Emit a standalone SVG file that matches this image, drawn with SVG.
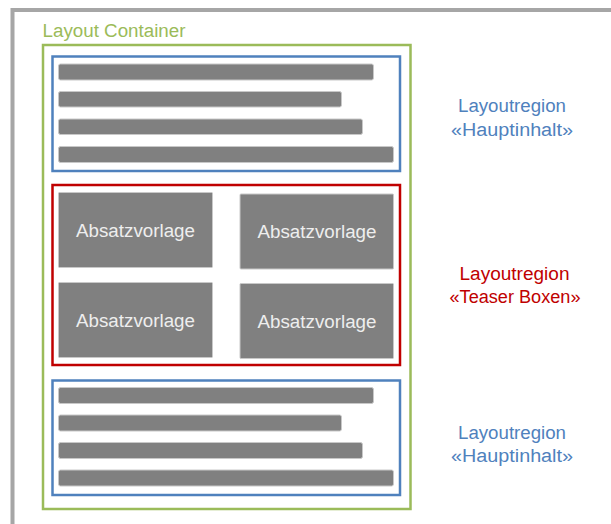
<svg xmlns="http://www.w3.org/2000/svg" width="611" height="524" viewBox="0 0 611 524">
<style>
.bar{fill:#808080;stroke:#c8c8c8;stroke-width:1}
.box{fill:#808080;stroke:#c8c8c8;stroke-width:1}
.bt{font-family:"Liberation Sans",Arial,sans-serif;font-size:18px;fill:#eeeeee;text-anchor:middle}
.lbl{font-family:"Liberation Sans",Arial,sans-serif;font-size:18px;text-anchor:middle}
.blue{fill:#4f81bd}
.red{fill:#c00000}
</style>
<rect width="611" height="524" fill="#ffffff"/>
<rect x="12.5" y="10" width="700" height="600" fill="none" stroke="#a6a6a6" stroke-width="4"/>
<g id="container">
<text x="42.5" y="36.5" font-family="'Liberation Sans',Arial,sans-serif" font-size="18" fill="#9bbb59" textLength="143" lengthAdjust="spacingAndGlyphs">Layout Container</text>
<rect x="43" y="45" width="367.5" height="464" fill="none" stroke="#9bbb59" stroke-width="2.5"/>
</g>
<g id="region-top">
<rect x="52.5" y="56.5" width="347.5" height="114.5" fill="none" stroke="#4f81bd" stroke-width="2.5"/>
<rect class="bar" x="58.5" y="64" width="315" height="16" rx="2"/>
<rect class="bar" x="58.5" y="91.5" width="283" height="15.5" rx="2"/>
<rect class="bar" x="58.5" y="119" width="304" height="15.5" rx="2"/>
<rect class="bar" x="58.5" y="146.5" width="335" height="16" rx="2"/>
</g>
<g id="region-teaser">
<rect x="52.5" y="185" width="347.5" height="180" fill="none" stroke="#c00000" stroke-width="2.5"/>
<g id="box1"><rect class="box" x="58.5" y="192.5" width="154" height="75" rx="1"/><text class="bt" x="135.5" y="236.5" textLength="119" lengthAdjust="spacingAndGlyphs">Absatzvorlage</text></g>
<g id="box2"><rect class="box" x="240" y="194" width="153.5" height="75" rx="1"/><text class="bt" x="317" y="238" textLength="119" lengthAdjust="spacingAndGlyphs">Absatzvorlage</text></g>
<g id="box3"><rect class="box" x="58.5" y="282.5" width="154" height="75" rx="1"/><text class="bt" x="135.5" y="326.5" textLength="119" lengthAdjust="spacingAndGlyphs">Absatzvorlage</text></g>
<g id="box4"><rect class="box" x="240" y="283.5" width="153.5" height="75" rx="1"/><text class="bt" x="317" y="327.5" textLength="119" lengthAdjust="spacingAndGlyphs">Absatzvorlage</text></g>
</g>
<g id="region-bottom">
<rect x="52.5" y="380.5" width="347.5" height="114.5" fill="none" stroke="#4f81bd" stroke-width="2.5"/>
<rect class="bar" x="58.5" y="387.5" width="315" height="16" rx="2"/>
<rect class="bar" x="58.5" y="415" width="283" height="16" rx="2"/>
<rect class="bar" x="58.5" y="442.5" width="304" height="16" rx="2"/>
<rect class="bar" x="58.5" y="470" width="335" height="16" rx="2"/>
</g>
<g id="label-top">
<text class="lbl blue" x="512" y="112.3" textLength="108" lengthAdjust="spacingAndGlyphs">Layoutregion</text>
<text class="lbl blue" x="512" y="135.5" textLength="122" lengthAdjust="spacingAndGlyphs">«Hauptinhalt»</text>
</g>
<g id="label-teaser">
<text class="lbl red" x="514.5" y="280" textLength="110" lengthAdjust="spacingAndGlyphs">Layoutregion</text>
<text class="lbl red" x="515" y="303" textLength="131" lengthAdjust="spacingAndGlyphs">«Teaser Boxen»</text>
</g>
<g id="label-bottom">
<text class="lbl blue" x="512" y="438.5" textLength="108" lengthAdjust="spacingAndGlyphs">Layoutregion</text>
<text class="lbl blue" x="512" y="461.5" textLength="122" lengthAdjust="spacingAndGlyphs">«Hauptinhalt»</text>
</g>
</svg>
